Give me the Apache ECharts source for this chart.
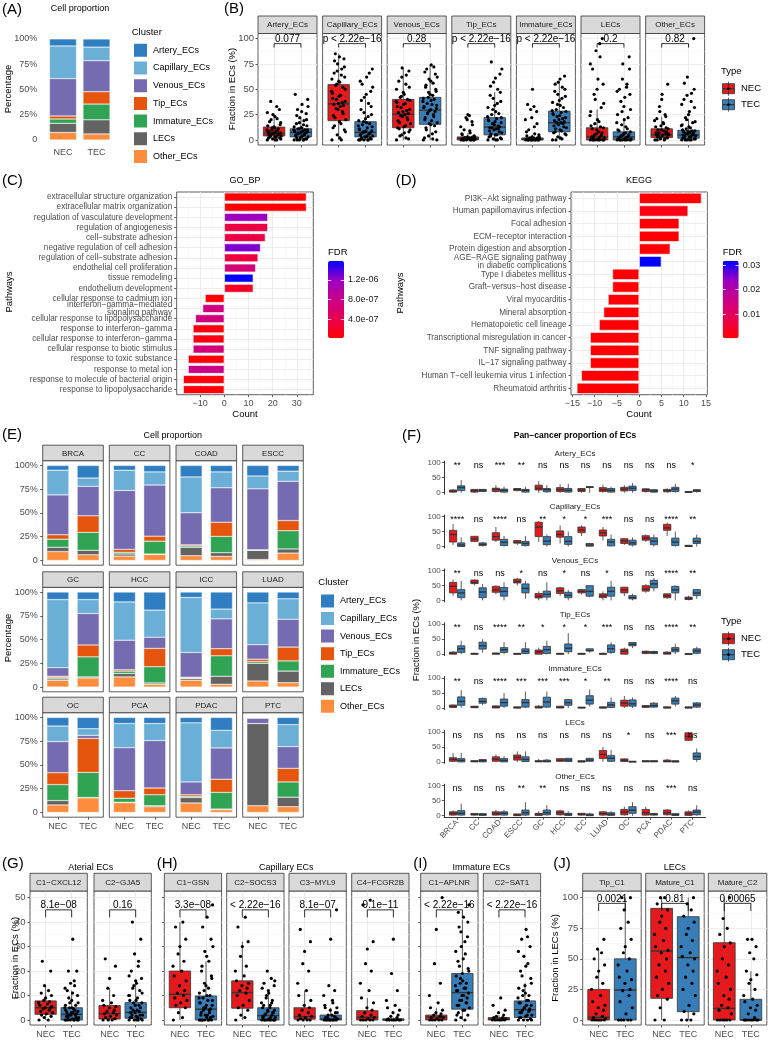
<!DOCTYPE html>
<html>
<head>
<meta charset="utf-8">
<title>EC figure</title>
<script src="https://cdn.jsdelivr.net/npm/echarts@6.0.0/dist/echarts.min.js"></script>
<style>html,body{margin:0;padding:0;background:#fff;}#c{width:768px;height:1040px;}</style>
</head>
<body>
<div id="c"></div>
<script>
// ================= DATA =================
const clusters = ['Artery_ECs','Capillary_ECs','Venous_ECs','Tip_ECs','Immature_ECs','LECs','Other_ECs'];
const groups = ['NEC','TEC'];
// (A) proportions, clusters order
const propA_NEC = [7, 32.3, 37, 3, 4.3, 9, 7.5];
const propA_TEC = [8, 13.5, 30.7, 12.2, 15.6, 14, 6];

// (B) box stats [lowWhisker, q1, median, q3, highWhisker]
const bCells = ['Artery_ECs','Capillary_ECs','Venous_ECs','Tip_ECs','Immature_ECs','LECs','Other_ECs'];
const bNEC = [[0,3.9,6.5,12.7,25],[0,19,35.6,54.6,85],[0,12,25.5,40,71],[0,0,1.5,3,7],[0,0,0.5,2,5],[0,0,3,12,30],[0,2.3,5,11,23]];
const bTEC = [[0,3,7.5,11,22],[0,3,7.5,18,40],[0,15.4,29.4,42,74],[0,5,12.7,22,47],[0,8,17,28.4,58],[0,0,3,8,20],[0,1.7,5,9.5,21]];
const bPtsNEC = [
 [0,0,1,2,3,3,4,5,5,6,6,7,7,8,9,10,11,12,13,15,18,21,25,30,38,0,1,2,3,4,5,6,7,8,9,10,12,14,17,20,23,27,33],
 [0,0,5,10,14,18,20,24,28,31,34,36,38,41,44,48,52,55,58,62,66,70,75,80,85,2,8,12,16,22,26,30,33,35,37,40,43,46,50,54,57,60,64,68,72,78,82],
 [0,2,5,8,11,13,16,19,22,24,26,28,30,33,36,38,40,43,47,52,58,64,71,1,4,7,10,12,14,17,20,23,25,27,29,32,35,37,39,42,45,50,55,62,68],
 [0,0,0,0,0,1,1,1,2,2,3,3,4,6,9,13,18,22,25,0,0,0,1,1,2,2,3,5,7,10,15,20,24],
 [0,0,0,0,0,0,1,1,1,2,2,3,5,8,13,20,28,30,50,0,0,0,0,1,1,2,3,4,6,10,16,22,33,35],
 [0,0,0,0,0,1,2,3,4,5,7,10,12,14,18,24,32,40,50,55,70,82,88,100,0,0,0,1,2,3,5,6,8,11,13,16,20,28,36,45,60,75,95],
 [0,0,1,2,3,4,5,5,6,7,8,10,11,13,16,19,23,28,40,55,0,1,2,3,4,5,6,7,9,10,12,14,17,21,25,33,45]
];
const bPtsTEC = [
 [0,0,0,1,2,3,3,4,5,6,7,7,8,8,9,10,10,11,12,14,16,19,22,26,30,35,40,45,0,0,1,2,4,5,6,7,8,9,10,11,12,13,15,17,20,24,28,33],
 [0,0,0,1,2,3,4,5,6,7,7,8,9,10,12,14,16,18,21,25,30,36,42,48,55,62,70,0,0,1,2,3,4,5,6,8,9,11,13,15,17,19,23,27,33,39,45,52,58,66],
 [0,1,4,8,12,15,17,20,23,26,28,29,31,33,35,38,40,42,45,48,52,56,60,65,70,74,0,2,6,10,14,16,19,22,25,27,30,32,34,36,39,41,44,47,50,54,58,62,67,72],
 [0,0,1,2,4,5,7,9,11,12,13,15,17,19,21,23,26,30,34,38,44,50,57,65,77,0,1,3,5,6,8,10,11,12,14,16,18,20,22,25,28,32,36,41,47,53,61,70],
 [0,1,3,6,8,10,12,14,16,17,18,20,22,25,27,29,32,35,39,43,48,52,57,63,0,2,5,7,9,11,13,15,17,19,21,23,24,26,28,30,34,37,41,45,50,55,60],
 [0,0,0,0,0,1,1,2,3,4,5,6,8,10,13,17,22,28,33,45,50,55,75,82,0,0,0,1,2,3,4,5,7,9,11,15,20,25,30,38,42,48,52,60,70],
 [0,0,0,1,2,3,4,5,5,6,7,8,9,10,12,14,17,20,25,32,40,46,62,100,0,0,1,2,3,4,5,6,7,8,9,11,13,15,18,22,28,35,38,44,50,56]
];
const bP = ['0.077','p < 2.22e−16','0.28','p < 2.22e−16','p < 2.22e−16','0.2','0.82'];

// (C) GO_BP
const goTerms = ['extracellular structure organization','extracellular matrix organization','regulation of vasculature development','regulation of angiogenesis','cell−substrate adhesion','negative regulation of cell adhesion','regulation of cell−substrate adhesion','endothelial cell proliferation','tissue remodeling','endothelium development','cellular response to cadmium ion','interferon−gamma−mediated\nsignaling pathway','cellular response to lipopolysaccharide','response to interferon−gamma','cellular response to interferon−gamma','cellular response to biotic stimulus','response to toxic substance','response to metal ion','response to molecule of bacterial origin','response to lipopolysaccharide'];
const goCount = [34,34,18,18,17,15,14,13,12,12,-8,-9,-12,-13,-13,-13,-15,-15,-17,-17];
const goFDR = [1e-8,1e-8,1.15e-6,3.3e-7,3.6e-7,1.27e-6,3.3e-7,6.7e-7,1.59e-6,2e-7,4e-8,7.2e-7,7.2e-7,9e-8,9e-8,6.7e-7,4e-8,7.7e-7,5e-8,5e-8];
const goFdrTicks = [4e-7, 8e-7, 1.2e-6];

// (D) KEGG
const keggTerms = ['PI3K−Akt signaling pathway','Human papillomavirus infection','Focal adhesion','ECM−receptor interaction','Protein digestion and absorption','AGE−RAGE signaling pathway\nin diabetic complications','Type I diabetes mellitus','Graft−versus−host disease','Viral myocarditis','Mineral absorption','Hematopoietic cell lineage','Transcriptional misregulation in cancer','TNF signaling pathway','IL−17 signaling pathway','Human T−cell leukemia virus 1 infection','Rheumatoid arthritis'];
const keggCount = [14,11,9,9,7,5,-6,-6,-7,-8,-9,-11,-11,-11,-13,-14];
const keggFDR = [0.0003,0.002,0.0005,0.0005,0.0008,0.0318,0.0004,0.0004,0.0006,0.0005,0.0007,0.0003,0.0003,0.0003,0.0003,0.0002];
const keggFdrTicks = [0.01, 0.02, 0.03];

// (E) per-cancer proportions, clusters order
const eCancers = ['BRCA','CC','COAD','ESCC','GC','HCC','ICC','LUAD','OC','PCA','PDAC','PTC'];
const eNEC = [[5,26,42,4.6,8.5,4.6,9.3],[5,21.3,62,3.2,1.7,2.2,4.6],[12.1,37.7,33.8,1.1,1.4,8.9,5],[11.1,13.5,64.2,0.2,0.3,9.7,1],
 [7.9,71.7,9,1.4,1.4,1.5,7.1],[10.4,40.3,31.1,1.4,2.5,3.6,10.7],[5.7,57.9,26,0.8,0.7,1.8,7.1],[11.4,44,15.3,2.5,1.8,18.6,6.4],
 [9,16.4,32.8,12.5,16.8,4.6,7.9],[6.4,25.4,45.3,7.9,4.3,0.3,10.4],[5.7,62.2,13.5,1.8,1.1,5.7,10],[0.4,0.3,5.7,0,0,86.5,7.1]];
const eTEC = [[13.2,8.8,31,17.5,18.8,4.7,6],[6.8,13.8,53.8,5.3,13.5,0.4,6.4],[6.8,16.7,36.3,14.9,17.1,3.9,4.3],[6,10.7,41.3,10.7,19.2,4.3,7.8],
 [7.9,14.7,33.1,12.5,21.1,1.1,9.6],[19,28.5,11.8,19.3,17.1,1.4,2.9],[17.9,10.3,31.4,7.5,21.5,8.5,2.9],[7.1,21.5,29.3,14.6,10.7,12.2,4.6],
 [11.8,7.1,3.2,35.8,26.4,0.3,15.4],[6.4,17.9,50,7.1,11.5,1,6.1],[13.6,18.5,32.9,13.9,17.5,0.7,2.9],[7.5,23.2,22.9,14.3,16,10,6.1]];

// (F) pan-cancer box stats per cell type [low, q1, med, q3, high] for each cancer
const fArteryNEC = [[0,2,5,9,12],[0,2,7,11,12],[0,4,11,15,25],[5,7,11,14,15],[0,9,15,25,38],[0,4,10,17,28],[0,4,9,14,15],[0,4,10,17,27],[0,6,12,18,25],[0,4,10,13,15],[0,3,7,11,15],[0,1,2,4,5]];
const fArteryTEC = [[0,7,17,23,42],[3,4,8,11,12],[0,2,8,12,20],[0,2,8,11,20],[0,3,10,14,25],[0,2,8,14,30],[0,18,19,20,20],[0,2,8,14,20],[0,7,15,22,32],[0,2,6,10,12],[0,4,12,18,30],[0,4,7,10,12]];
const fCapNEC = [[5,15,40,54,75],[15,17,25,34,35],[15,21,33,46,65],[5,11,14,20,20],[15,33,65,81,85],[10,31,40,52,70],[35,46,55,65,70],[20,35,45,55,65],[5,10,18,26,28],[15,21,28,36,40],[35,54,62,74,80],[0,0,1,4,4]];
const fCapTEC = [[0,0,5,12,30],[0,3,7,12,15],[0,3,14,24,35],[0,3,10,17,35],[0,6,18,33,40],[0,7,17,33,50],[0,1,5,10,12],[0,2,15,24,40],[0,5,12,21,30],[0,6,18,29,40],[0,3,15,28,50],[0,10,17,28,40]];
const fVenNEC = [[15,25,47,60,70],[50,56,60,68,70],[20,27,35,47,50],[50,58,63,71,75],[0,8,14,23,30],[15,23,32,42,45],[20,25,30,36,38],[0,9,15,22,30],[15,25,35,44,45],[25,31,38,49,55],[5,9,15,22,22],[0,3,6,11,15]];
const fVenTEC = [[0,9,25,36,65],[0,9,28,42,55],[0,14,30,43,60],[5,25,40,55,65],[0,11,20,31,60],[0,9,17,27,35],[10,14,30,49,50],[0,14,30,44,65],[0,5,9,16,22],[30,42,55,67,75],[0,25,35,47,50],[5,16,25,36,38]];
const fTipNEC = [[0,0,3,7,10],[0,0,1,3,5],[0,0,2,4,5],[0,0,1,3,3],[0,0,8,14,22],[0,0,1,3,3],[0,0,1,3,4],[0,0,1,3,5],[0,0,10,17,22],[0,2,7,10,12],[0,0,3,7,10],[0,0,0.5,2,3]];
const fTipTEC = [[0,6,18,28,45],[5,17,28,40,50],[0,6,15,22,40],[0,2,10,18,40],[0,2,15,26,45],[0,8,20,34,70],[5,11,12,18,20],[0,6,18,31,40],[20,28,33,39,40],[0,2,6,9,12],[0,8,15,22,35],[0,3,11,18,25]];
const fImmNEC = [[0,2,5,10,12],[0,1,3,6,6],[0,0,3,7,8],[0,0,1,4,5],[0,0,2,6,10],[0,0,2,6,6],[0,0,1,3,3],[0,0,1,4,5],[0,6,16,26,40],[0,2,5,8,10],[0,0,1,4,5],[0,0,1,4,5]];
const fImmTEC = [[0,9,22,37,60],[10,16,22,32,35],[0,6,18,30,50],[0,3,18,28,55],[0,3,20,36,55],[0,9,18,28,30],[5,13,26,41,62],[0,2,10,19,35],[0,6,14,27,35],[0,3,8,16,20],[5,13,24,33,40],[0,3,10,17,20]];
const fLecNEC = [[0,2,8,14,30],[0,0,2,4,5],[0,2,9,17,25],[0,6,15,23,35],[0,0,2,4,10],[0,2,5,11,12],[0,0,1,4,5],[0,11,25,38,50],[0,1,5,10,12],[0,0,2,4,4],[0,0,2,6,10],[70,72,85,97,100]];
const fLecTEC = [[0,0,5,11,30],[0,0,4,8,10],[0,0,5,11,20],[0,1,8,17,35],[0,0,2,6,10],[0,1,6,12,12],[0,2,6,12,12],[0,2,12,21,40],[0,0,1,2,3],[0,0,2,4,4],[0,0,1,4,5],[0,8,18,30,45]];
const fOthNEC = [[0,2,8,13,18],[0,2,5,7,7],[0,2,7,13,20],[0,0,2,6,6],[0,1,4,8,15],[0,3,10,16,20],[0,2,5,8,8],[0,2,7,13,15],[0,3,12,21,30],[0,2,10,21,30],[0,3,10,19,22],[0,1,6,13,18]];
const fOthTEC = [[0,2,8,17,40],[0,1,4,7,8],[0,2,8,13,20],[0,2,10,19,45],[0,3,10,19,35],[0,1,4,8,15],[0,0,2,6,10],[0,1,5,10,15],[0,8,18,30,45],[0,2,5,7,8],[0,1,3,7,8],[0,3,12,19,35]];
const fSigArtery = ['**','ns','***','**','ns','ns','ns','ns','ns','ns','ns','*'];
const fSigCap = ['****','ns','****','ns','**','*','*','***','ns','ns','****','**'];
const fSigVen = ['**','ns','ns','*','ns','*','ns','*','ns','ns','****','**'];
const fSigTip = ['**','ns','****','**','*','*','*','***','ns','ns','****','**'];
const fSigImm = ['**','ns','****','***','***','***','*','**','ns','ns','****','ns'];
const fSigLec = ['ns','ns','ns','ns','ns','ns','ns','ns','*','ns','***','ns'];
const fSigOth = ['ns','ns','ns','**','**','ns','ns','ns','ns','ns','***','ns'];

// (G)-(J) sub-clusters
const subNames = ['C1−CXCL12','C2−GJA5','C1−GSN','C2−SOCS3','C3−MYL9','C4−FCGR2B','C1−APLNR','C2−SAT1','Tip_C1','Mature_C1','Mature_C2'];
const subNEC = [[0,2.3,5,7.8,14],[0,0.4,2.6,5.9,13],[0,5,10.5,20,40],[0,4.8,11.2,16,32],[0,0.3,1.4,5,12],[0,0,1.1,3.8,9],[0,0,1.2,2,5],[0,0,0.4,1,2],[0,0,2.2,25,58],[0,17.7,56.4,91.3,100],[0,0,9.5,63.2,100]];
const subTEC = [[0,0,2.3,5,12],[0,0.7,3.1,7.1,16],[0,0,4.4,9.8,24],[0,0,1.8,5,12],[0,0,0.4,2,5],[0,0,0,0.5,1],[0,4.4,11.2,19,41],[0,1,4.2,7.8,15],[0,0,24.5,50,100],[0,6.8,51,84.5,100],[0,0,0,16.9,40]];
const subPtsNEC = [
 [0,0,1,1.5,2,2.5,3,3.5,4,4.5,5,5,5.5,6,6.5,7,7.5,8,9,10,11,12,14,20,24],
 [0,0,0,0.5,1,1.5,2,2.5,3,3.5,4,5,5.5,6,7,8,10,13,17,22,25],
 [0,1,3,5,6,7,8,9,10,11,12,14,16,18,20,22,24,27,30,33,38,40],
 [0,1,2,4,5,6,8,10,11,12,13,14,15,16,18,20,22,26,30,32,38,42],
 [0,0,0,0,0.5,1,1.5,2,3,4,5,6,8,10,12,15,20,23,28,32,37],
 [0,0,0,0,0,0.5,1,1.5,2,3,4,5,7,9,12,15,20,23,29,32,47,49],
 [0,0,0,0,0,0.5,1,1,1.5,2,2.5,3,4,5,7,10,15,23,37,50],
 [0,0,0,0,0,0,0.5,1,1,1.5,2,3,4,6,9],
 [0,0,0,0,0,0,1,2,3,5,8,10,12,15,20,25,30,35,40,45,50,55,58,66],
 [0,0,10,17,20,25,30,35,40,45,50,55,57,60,65,70,75,80,85,90,95,100,100],
 [0,0,0,0,0,0,5,8,10,12,17,20,25,30,35,40,45,50,60,63,70,75,83,100]
];
const subPtsTEC = [
 [0,0,0,0,0,0.5,1,1.5,2,2,2.5,3,3.5,4,4.5,5,6,7,8,10,12,14,15,20,20,33,0,0,0,1,1,2,3,3,4,5,5,6,7,9,11,13,16],
 [0,0,0,0.5,1,1.5,2,3,3.5,4,5,6,7,8,9,10,12,14,16,17,20,24,27,33,40,0,0,1,1,2,2,3,4,5,6,7,8,10,11,13,15,18,22],
 [0,0,0,0,0,1,1.5,2,3,4,4.5,5,6,7,8,9,10,12,14,17,20,24,28,33,38,42,47,0,0,0,1,2,2,3,4,5,6,7,8,9,10,11,13,15,18,22,26,30],
 [0,0,0,0,0,0.5,1,1.5,2,2.5,3,3.5,4,5,6,7,8,10,12,14,15,17,20,0,0,0,0,1,1,2,3,4,5,6,7,9,11,13,16],
 [0,0,0,0,0,0,0.5,1,1.5,2,3,4,5,6,8,10,12,14,33,45,0,0,0,1,1,2,3,5,7],
 [0,0,0,0,0,0,0,0.5,1,1.5,2,3,4,5,6,8,12,19,33],
 [0,0,1,2,3,4,5,6,7,8,9,10,11,12,13,14,15,17,19,21,24,27,30,34,38,42,47,2,4,6,7,8,10,12,13,15,16,18,20,22,25,28,32,36,40,44],
 [0,0,0,0.5,1,1.5,2,3,3.5,4,4.5,5,6,7,8,9,10,12,14,17,20,23,26,30,33,37,0,1,2,3,4,5,6,7,8,10,11,13,15,18,22,28,34],
 [0,0,0,0,0,5,10,15,20,24,25,30,33,35,40,45,50,55,60,66,75,80,90,100,100],
 [0,0,0,5,7,12,20,25,30,35,40,45,50,52,55,60,65,70,75,80,85,90,95,100],
 [0,0,0,0,0,0,0,0,2,5,8,10,12,15,17,20,25,30,33,37,40,50,55,60,66,66]
];
const subP = ['8.1e−08','0.16','3.3e−08','< 2.22e−16','8.1e−07','9.1e−11','< 2.22e−16','< 2.22e−16','0.0021','0.81','0.00065'];

// ================= STYLE / LAYOUT =================
const FF = "'Liberation Sans', Arial, Helvetica, sans-serif";
const clusterColors = ['#2E7EC1','#6BAED6','#756BB1','#E6550D','#31A354','#636363','#FD8D3C'];
const typeColors = ['#E41A1C','#377EB8'];
const fdrColors = ['#FF0000','#E8004F','#CA0089','#9A00C3','#0000FF'];
const JIT = [-0.9,0.35,-0.2,0.75,-0.55,0.1,0.95,-0.7,0.5,-0.35,0.65,-0.05,0.85,-0.8,0.25,-0.95,0.55,-0.25,0.0,0.8,-0.6,0.4,-0.15,0.7,-0.45,0.15,0.9,-0.75,0.3,-0.5,0.6,-0.1,0.2,-0.65,0.45,-0.3,0.05,-0.85,0.88,-0.4,0.12];

const opt = {animation:false, backgroundColor:'#ffffff', textStyle:{fontFamily:FF},
  grid:[], xAxis:[], yAxis:[], series:[], legend:[], visualMap:[], graphic:{elements:[]}};
const GE = opt.graphic.elements;
function addGrid(l,t,w,h,box){
  const g = {left:l, top:t, width:w, height:h, containLabel:false, outerBoundsMode:'none', show:false};
  if (box) Object.assign(g, {show:true, borderColor:'#333333', borderWidth:0.8, backgroundColor:'#ffffff'});
  opt.grid.push(g); return opt.grid.length-1;
}
function fixAxis(a){ a.axisLine = Object.assign({onZero:false}, a.axisLine||{}); return a; }
function addX(a){ opt.xAxis.push(fixAxis(a)); return opt.xAxis.length-1; }
function addY(a){ opt.yAxis.push(fixAxis(a)); return opt.yAxis.length-1; }
function T(x,y,s,o){ o=o||{}; GE.push({type:'text', x:x, y:y, rotation:o.rot||0, silent:true, z:100,
  style:{text:s, x:0, y:0, fill:o.color||'#000000', font:(o.weight||'normal')+' '+(o.size||9)+'px '+FF,
  textAlign:o.align||'left', textVerticalAlign:o.valign||'middle', verticalAlign:o.valign||'middle'}}); }
function R(x,y,w,h,fill,stroke,lw){ GE.push({type:'rect', silent:true, z:90, shape:{x:x,y:y,width:w,height:h}, style:{fill:fill, stroke:stroke||null, lineWidth:lw||0}}); }
function Ln(x1,y1,x2,y2,stroke,lw){ GE.push({type:'line', silent:true, z:91, shape:{x1:x1,y1:y1,x2:x2,y2:y2}, style:{stroke:stroke, lineWidth:lw}}); }
function strip(l,t,w,h,s){ R(l,t,w,h,'#D9D9D9','#333333',0.8); T(l+w/2, t+h/2+0.5, s, {align:'center', size:8, color:'#1A1A1A'}); }
function typeLegend(x,y){
  T(x, y, 'Type', {size:9.5});
  groups.forEach((g,i)=>{ const cy = y+17+i*16;
    Ln(x+7.5, cy-7, x+7.5, cy+7, '#333333', 0.8);
    R(x+1.5, cy-5, 12, 10, typeColors[i], '#333333', 0.8);
    Ln(x+1.5, cy, x+13.5, cy, '#333333', 1.2);
    GE.push({type:'circle', silent:true, z:92, shape:{cx:x+7.5, cy:cy, r:1.4}, style:{fill:'#000'}});
    T(x+20, cy, g, {size:9.5});
  });
}
const AL = (size, extra) => Object.assign({fontSize:size, color:'#4D4D4D', fontFamily:FF}, extra||{});
const TK = {color:'#333333', width:0.8};

function boxPanel(c){
  const gi = addGrid(c.l, c.t, c.w, c.h, !!c.bw);
  const centers = []; for (let i=0;i<c.n;i++) centers.push(i+0.5);
  const xi = addX({type:'value', gridIndex:gi, min:-0.1, max:c.n+0.1, position:'bottom',
    axisLine:{show:!!c.classicX, lineStyle:{color:'#000', width:0.8}},
    axisTick:{show:!!c.xTicks, customValues:centers, length:2.5, lineStyle:TK},
    axisLabel:AL(c.xFont||9, {show:!!c.xLabels, customValues:centers, margin:c.xMargin||4.5, rotate:c.xRot||0,
      formatter:v=>c.cats[Math.round(v-0.5)]}),
    splitLine:{show:!!c.bw, lineStyle:{color:'#EBEBEB', width:0.9}}});
  const yi = addY({type:'value', gridIndex:gi, min:c.ymin, max:c.ymax, position:'left',
    axisLine:{show:!!c.classic, lineStyle:{color:'#000', width:0.8}},
    axisTick:{show:!!c.yTicks, customValues:c.yMaj, length:2.5, lineStyle:TK},
    axisLabel:AL(c.yFont||9.5, {show:!!c.yLabels, customValues:c.yMaj, margin:c.yMargin||4.5}),
    splitLine:{show:!!c.bw, lineStyle:{color:'#EBEBEB', width:0.9}}});
  if (c.bw && c.yMinor) addY({type:'value', gridIndex:gi, min:c.ymin, max:c.ymax, position:'right',
    axisLine:{show:false}, axisTick:{show:false, customValues:c.yMinor}, axisLabel:{show:false},
    splitLine:{show:true, lineStyle:{color:'#F3F3F3', width:0.6}}});
  const boxes = c.boxes;
  opt.series.push({type:'custom', xAxisIndex:xi, yAxisIndex:yi, silent:true, z:3,
    data: boxes.map(b=>[b.x, b.s[0], b.s[1], b.s[2], b.s[3], b.s[4]]),
    encode:{x:0, y:[1,2,3,4,5]},
    renderItem:(p, api)=>{
      const b = boxes[p.dataIndex];
      const x = api.value(0);
      const Y = k => api.coord([x, api.value(k)])[1];
      const cx = api.coord([x, 0])[0];
      const hw = api.size([b.w, 0])[0]/2;
      const yLo=Y(1), yQ1=Y(2), yMed=Y(3), yQ3=Y(4), yHi=Y(5);
      const st = {stroke:'#333333', lineWidth:0.8};
      return {type:'group', children:[
        {type:'line', shape:{x1:cx,y1:yHi,x2:cx,y2:yQ3}, style:st},
        {type:'line', shape:{x1:cx,y1:yQ1,x2:cx,y2:yLo}, style:st},
        {type:'rect', shape:{x:cx-hw, y:yQ3, width:2*hw, height:Math.max(yQ1-yQ3,0.8)}, style:{fill:b.color, stroke:'#333333', lineWidth:0.8}},
        {type:'line', shape:{x1:cx-hw,y1:yMed,x2:cx+hw,y2:yMed}, style:{stroke:'#333333', lineWidth:1.4}}
      ]};
    }});
  boxes.forEach(b=>{ if (b.pts) opt.series.push({type:'scatter', xAxisIndex:xi, yAxisIndex:yi, silent:true, z:4,
    symbolSize:c.ptSize||3.2, itemStyle:{color:'#000000', opacity:1},
    data:b.pts.map((v,k)=>[b.x + JIT[k%JIT.length]*c.jw, v])}); });
  if (c.brackets) opt.series.push({type:'custom', xAxisIndex:xi, yAxisIndex:yi, silent:true, z:5,
    data:c.brackets.map(br=>[br.x1, br.y, br.x2, br.y-br.leg]),
    renderItem:(p, api)=>{
      const br = c.brackets[p.dataIndex];
      const a = api.coord([api.value(0), api.value(1)]), b2 = api.coord([api.value(2), api.value(1)]);
      const a0 = api.coord([api.value(0), api.value(3)]), b0 = api.coord([api.value(2), api.value(3)]);
      return {type:'group', children:[
        {type:'polyline', shape:{points:[a0,a,b2,b0]}, style:{stroke:'#000000', lineWidth:0.8, fill:null}},
        {type:'text', style:{text:br.label, x:(a[0]+b2[0])/2, y:a[1]+0.5, textAlign:'center', textVerticalAlign:'bottom', verticalAlign:'bottom', font:(c.pSize||10)+'px '+FF, fill:'#000000'}}
      ]};
    }});
  if (c.labels) opt.series.push({type:'custom', xAxisIndex:xi, yAxisIndex:yi, silent:true, z:6,
    data:c.labels.map(o=>[o.x, o.y]),
    renderItem:(p, api)=>{ const pt = api.coord([api.value(0), api.value(1)]);
      return {type:'text', style:{text:c.labels[p.dataIndex].text, x:pt[0], y:pt[1], textAlign:'center', textVerticalAlign:'middle', verticalAlign:'middle', font:(c.labelSize||9)+'px '+FF, fill:'#000000'}}; }});
}

// ================= (A) =================
T(2, 10, '(A)', {size:15});
T(80, 8.5, 'Cell proportion', {size:9, align:'center'});
(function(){
  const gi = addGrid(46.25, 39, 67, 101, false);
  const xi = addX({type:'category', gridIndex:gi, data:groups, axisLine:{show:false}, axisTick:{show:false}, axisLabel:AL(9,{margin:8, interval:0}), splitLine:{show:false}});
  const yi = addY({type:'value', gridIndex:gi, min:0, max:100, interval:25, axisLine:{show:false}, axisTick:{show:false}, axisLabel:AL(9,{margin:9, formatter:v=>v===0?'0':v+'%'}), splitLine:{show:false}});
  for (let j=clusters.length-1;j>=0;j--) opt.series.push({type:'bar', name:clusters[j], stack:'A', xAxisIndex:xi, yAxisIndex:yi, barWidth:27, silent:true,
    data:[propA_NEC[j], propA_TEC[j]], itemStyle:{color:clusterColors[j], borderColor:'#ffffff', borderWidth:0.4}});
})();
T(8.3, 89, 'Percentage', {size:9.5, align:'center', rot:Math.PI/2});
T(131.7, 32.3, 'Cluster', {size:9.5});
opt.legend.push({data:clusters.slice(), left:132, top:41.8, orient:'vertical', itemWidth:15, itemHeight:15, itemGap:0.7, icon:'rect',
  selectedMode:false, padding:0, textStyle:{fontSize:9, color:'#000000', fontFamily:FF}});

// ================= (B) =================
T(224, 8.5, '(B)', {size:15});
bCells.forEach((name,k)=>{
  const l = 258 + k*64.6, t = 33.5, w = 59, h = 111.5;
  strip(l, 16, w, 17.5, name);
  boxPanel({l:l, t:t, w:w, h:h, n:2, cats:groups, ymin:-5, ymax:105, yMaj:[0,25,50,75,100], yMinor:[12.5,37.5,62.5,87.5],
    yLabels:k===0, yTicks:k===0, xTicks:true, xLabels:false, bw:true, jw:0.28, yMargin:4,
    boxes:[{x:0.5, s:bNEC[k], color:typeColors[0], w:0.8, pts:bPtsNEC[k]}, {x:1.5, s:bTEC[k], color:typeColors[1], w:0.8, pts:bPtsTEC[k]}],
    brackets:[{x1:0.5, x2:1.5, y:95, leg:3.9, label:bP[k]}]});
});
T(232.7, 89, 'Fraction in ECs (%)', {size:9.5, align:'center', rot:Math.PI/2});
typeLegend(721, 71.7);

// ================= (C) & (D) =================
function enrichPanel(cfg){
  const gi = addGrid(cfg.l, 192, cfg.w, 202.7, true);
  const xi = addX({type:'value', gridIndex:gi, min:cfg.xmin, max:cfg.xmax, position:'bottom',
    axisLine:{show:false}, axisTick:{show:true, customValues:cfg.xMaj, length:2.5, lineStyle:TK},
    axisLabel:AL(9,{customValues:cfg.xMaj, margin:4, formatter:v=>String(v).replace('-','−')}),
    splitLine:{show:true, lineStyle:{color:'#EBEBEB', width:0.9}}});
  addX({type:'value', gridIndex:gi, min:cfg.xmin, max:cfg.xmax, position:'top',
    axisLine:{show:false}, axisTick:{show:false, customValues:cfg.xMinor}, axisLabel:{show:false},
    splitLine:{show:true, lineStyle:{color:'#F3F3F3', width:0.6}}});
  const yi = addY({type:'category', gridIndex:gi, data:cfg.terms, inverse:true, position:'left',
    axisLine:{show:false}, axisTick:{show:true, alignWithLabel:true, length:2.5, lineStyle:TK},
    axisLabel:AL(8.2,{margin:4.5, interval:0, lineHeight:7.5}), splitLine:{show:false}});
  const cent = cfg.terms.map((t,i)=>i+0.5);
  addY({type:'value', gridIndex:gi, min:0, max:cfg.terms.length, inverse:true, position:'right',
    axisLine:{show:false}, axisTick:{show:false, customValues:cent}, axisLabel:{show:false},
    splitLine:{show:true, lineStyle:{color:'#EBEBEB', width:0.9}}});
  const si = opt.series.length;
  opt.series.push({type:'bar', xAxisIndex:xi, yAxisIndex:yi, barWidth:cfg.bw, silent:true, z:3,
    data:cfg.terms.map((t,i)=>[cfg.count[i], i, cfg.fdr[i]]), encode:{x:0, y:1},
    itemStyle:{borderColor:'#ffffff', borderWidth:0.6}});
  // colour bar
  opt.visualMap.push({type:'continuous', seriesIndex:si, dimension:2, min:cfg.fmin, max:cfg.fmax, inRange:{color:fdrColors},
    orient:'vertical', left:cfg.cbl, top:260.7, itemWidth:16, itemHeight:77.6, calculable:false, hoverLink:false, padding:0, text:null, showLabel:false});
  const gc = addGrid(cfg.cbl, 260.7, 16, 77.6, false);
  addX({type:'value', gridIndex:gc, show:false, min:0, max:1});
  addY({type:'value', gridIndex:gc, position:'right', min:cfg.fmin, max:cfg.fmax, z:10,
    axisLine:{show:false}, axisTick:{show:true, inside:true, length:3.2, customValues:cfg.fTicks, lineStyle:{color:'#ffffff', width:0.8}},
    axisLabel:{customValues:cfg.fTicks, fontSize:9, color:'#1A1A1A', fontFamily:FF, margin:4, formatter:cfg.fFmt}, splitLine:{show:false}});
  addY({type:'value', gridIndex:gc, position:'left', min:cfg.fmin, max:cfg.fmax, z:10,
    axisLine:{show:false}, axisTick:{show:true, inside:true, length:3.2, customValues:cfg.fTicks, lineStyle:{color:'#ffffff', width:0.8}},
    axisLabel:{show:false}, splitLine:{show:false}});
  T(cfg.cbl, 252, 'FDR', {size:9.5});
}
T(2, 181, '(C)', {size:15});
T(245, 181, 'GO_BP', {size:9, align:'center'});
enrichPanel({l:176.7, w:136.6, terms:goTerms, count:goCount, fdr:goFDR, xmin:-19.7, xmax:36.8, xMaj:[-10,0,10,20,30], xMinor:[-15,-5,5,15,25,35],
  bw:8.5, fmin:1e-8, fmax:1.59e-6, fTicks:goFdrTicks, cbl:328, fFmt:v=>v.toExponential(1).replace(/e([+-])(\d)$/,'e$10$2')});
T(9, 292, 'Pathways', {size:9.5, align:'center', rot:Math.PI/2});
T(245, 414, 'Count', {size:9.5, align:'center'});

T(395.7, 181, '(D)', {size:15});
T(639, 181, 'KEGG', {size:9, align:'center'});
enrichPanel({l:571, w:136.3, terms:keggTerms, count:keggCount, fdr:keggFDR, xmin:-15.3, xmax:15.3, xMaj:[-15,-10,-5,0,5,10,15], xMinor:[-12.5,-7.5,-2.5,2.5,7.5,12.5],
  bw:11, fmin:0.0001, fmax:0.0318, fTicks:keggFdrTicks, cbl:722.7, fFmt:v=>v.toFixed(2)});
T(400, 293, 'Pathways', {size:9.5, align:'center', rot:Math.PI/2});
T(639, 414, 'Count', {size:9.5, align:'center'});

// ================= (E) =================
T(2, 435, '(E)', {size:15});
T(172.7, 435.7, 'Cell proportion', {size:9, align:'center'});
const eLeft = [42.7,109.3,176,242.7], eTop = [460.7,587.3,712.7];
eCancers.forEach((cn,k)=>{
  const r = Math.floor(k/4), c = k%4, l = eLeft[c], t = eTop[r], w = 60.6, h = 104.5;
  strip(l, t-15.5, w, 15.5, cn);
  const gi = addGrid(l, t, w, h, true);
  const xi = addX({type:'category', gridIndex:gi, data:groups, axisLine:{show:false},
    axisTick:{show:r===2, alignWithLabel:true, length:2.5, lineStyle:TK}, axisLabel:AL(9,{show:r===2, margin:5, interval:0}), splitLine:{show:false}});
  const yi = addY({type:'value', gridIndex:gi, min:-5, max:105, axisLine:{show:false},
    axisTick:{show:c===0, customValues:[0,25,50,75,100], length:2.5, lineStyle:TK},
    axisLabel:AL(9,{show:c===0, customValues:[0,25,50,75,100], margin:5, formatter:v=>v===0?'0':v+'%'}), splitLine:{show:false}});
  for (let j=clusters.length-1;j>=0;j--) opt.series.push({type:'bar', name:clusters[j], stack:'E'+k, xAxisIndex:xi, yAxisIndex:yi, barWidth:22, silent:true,
    data:[eNEC[k][j], eTEC[k][j]], itemStyle:{color:clusterColors[j], borderColor:'#ffffff', borderWidth:0.4}});
});
T(8, 638, 'Percentage', {size:9.5, align:'center', rot:Math.PI/2});
T(318.3, 582.7, 'Cluster', {size:9.5});
opt.legend.push({data:clusters.slice(), left:319, top:592.5, orient:'vertical', itemWidth:15, itemHeight:15, itemGap:0.55, icon:'rect',
  selectedMode:false, padding:0, textStyle:{fontSize:9, color:'#000000', fontFamily:FF}});

// ================= (F) =================
T(402, 436, '(F)', {size:15});
T(575, 435.7, 'Pan−cancer proportion of ECs', {size:8.5, weight:'bold', align:'center'});
const fCells = ['Artery_ECs','Capillary_ECs','Venous_ECs','Tip_ECs','Immature_ECs','LECs','Other_ECs'];
const fNEC = [fArteryNEC, fCapNEC, fVenNEC, fTipNEC, fImmNEC, fLecNEC, fOthNEC];
const fTEC = [fArteryTEC, fCapTEC, fVenTEC, fTipTEC, fImmTEC, fLecTEC, fOthTEC];
const fSig = [fSigArtery, fSigCap, fSigVen, fSigTip, fSigImm, fSigLec, fSigOth];
const fTop = [462.7,516.5,570.4,624.2,678.0,731.9,785.7];
fCells.forEach((name,k)=>{
  const y100 = fTop[k];
  T(575, y100-9.4, name, {size:8, align:'center', color:'#1A1A1A'});
  const boxes = [];
  for (let i=0;i<eCancers.length;i++){
    boxes.push({x:i+0.5-0.19, s:fNEC[k][i], color:typeColors[0], w:0.34});
    boxes.push({x:i+0.5+0.19, s:fTEC[k][i], color:typeColors[1], w:0.34});
  }
  boxPanel({l:444.3, t:y100-1.5, w:261.2, h:33, n:12, cats:eCancers, ymin:-5, ymax:105, yMaj:[0,50,100],
    yLabels:true, yTicks:true, yFont:8, yMargin:3.5, xTicks:k===6, xLabels:k===6, xRot:45, xFont:8, xMargin:4,
    classic:true, classicX:k===6, boxes:boxes,
    labels:fSig[k].map((s,i)=>({x:i+0.5, y:89, text:s}))});
});
T(416.7, 640, 'Fraction in ECs (%)', {size:9.5, align:'center', rot:Math.PI/2});
typeLegend(721, 621.7);

// ================= (G)-(J) =================
T(2, 864, '(G)', {size:15});
T(156.7, 864, '(H)', {size:15});
T(413.3, 864, '(I)', {size:15});
T(553.3, 864, '(J)', {size:15});
T(90.8, 867.3, 'Aterial ECs', {size:9, align:'center'});
T(286.3, 867.3, 'Capillary ECs', {size:9, align:'center'});
T(481.2, 867.3, 'Immature ECs', {size:9, align:'center'});
T(674.7, 867.3, 'LECs', {size:9, align:'center'});
const subLeft = [30, 94, 164.3, 226.7, 289, 351.7, 420.7, 483.3, 582.7, 645.7, 708.3];
subNames.forEach((name,k)=>{
  const isJ = k>=8;
  const l = subLeft[k], w = isJ ? 58.5 : 57.3, t = 891, h = 134;
  strip(l, 873.3, w, 17.7, name);
  boxPanel({l:l, t:t, w:w, h:h, n:2, cats:groups,
    ymin:isJ?-4.1:-2.05, ymax:isJ?105.5:52.7,
    yMaj:isJ?[0,25,50,75,100]:[0,10,20,30,40,50], yMinor:isJ?[12.5,37.5,62.5,87.5]:[5,15,25,35,45],
    yLabels:(k===0||k===8), yTicks:(k===0||k===2||k===6||k===8), xTicks:true, xLabels:true, xMargin:5, bw:true, jw:0.28,
    boxes:[{x:0.5, s:subNEC[k], color:typeColors[0], w:0.82, pts:subPtsNEC[k]}, {x:1.5, s:subTEC[k], color:typeColors[1], w:0.82, pts:subPtsTEC[k]}],
    brackets:[{x1:0.5, x2:1.5, y:isJ?95.4:45, leg:isJ?6.3:3.1, label:subP[k]}]});
});
T(15, 958, 'Fraction in ECs (%)', {size:9.5, align:'center', rot:Math.PI/2});
T(555, 958, 'Fraction in LECs (%)', {size:9.5, align:'center', rot:Math.PI/2});

const chart = echarts.init(document.getElementById('c'), null, {renderer:'canvas', width:768, height:1040});
chart.setOption(opt);
</script>
</body>
</html>
